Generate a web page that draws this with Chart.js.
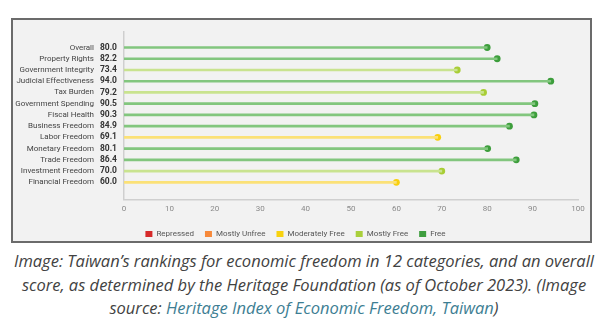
<!DOCTYPE html>
<html>
<head>
<meta charset="utf-8">
<script src="https://cdn.jsdelivr.net/npm/chart.js@4.4.0/dist/chart.umd.min.js"></script>
<style>
  body { margin: 0; background: #fff; width: 608px; height: 331px; overflow: hidden; position: relative; }
  #box { position: absolute; left: 11px; top: 18px; width: 581px; height: 225px; box-sizing: border-box;
         border: 2px solid #6b6b6b; background: #f2f2f2; }
  #box canvas { display: block; }
  #caption { position: absolute; left: 0; top: 249px; width: 608px; text-align: center;
             font-family: "Open Sans", sans-serif; font-style: italic; font-size: 16.5px; line-height: 23.5px; color: #424242; }
  #caption a { color: #3d7e93; text-decoration: none; }
</style>
</head>
<body>
<div id="box"><canvas id="freedomChart" width="577" height="221"></canvas></div>
<div id="caption">Image: Taiwan’s rankings for economic freedom in 12 categories, and an overall<br>score, as determined by the Heritage Foundation (as of October 2023). (Image<br>source: <a href="#">Heritage Index of Economic Freedom, Taiwan</a>)</div>
<script>
const categories = ["Overall", "Property Rights", "Government Integrity", "Judicial Effectiveness", "Tax Burden",
  "Government Spending", "Fiscal Health", "Business Freedom", "Labor Freedom", "Monetary Freedom",
  "Trade Freedom", "Investment Freedom", "Financial Freedom"];
const scores = [80.0, 82.2, 73.4, 94.0, 79.2, 90.5, 90.3, 84.9, 69.1, 80.1, 86.4, 70.0, 60.0];
const xTicks = [0, 10, 20, 30, 40, 50, 60, 70, 80, 90, 100];
const legendNames = ["Repressed", "Mostly Unfree", "Moderately Free", "Mostly Free", "Free"];
const legendColors = ["#d62a2a", "#f7893a", "#f8d20f", "#a9cf3b", "#3f9e3f"];

// stem colour and dot colour by freedom band
function bandColors(v) {
  if (v >= 80) return ["#82c67e", "#3d9e3c"];
  if (v >= 70) return ["#c9e38f", "#a8cd35"];
  if (v >= 60) return ["#fbe177", "#f8cf0e"];
  if (v >= 50) return ["#f9b888", "#f7893a"];
  return ["#e98a8a", "#d62a2a"];
}

const tickFont = { family: "Roboto", size: 8 };

new Chart(document.getElementById("freedomChart"), {
  type: "bar",
  data: {
    datasets: [{
      type: "bar",
      data: scores.map((v, i) => ({ x: v, y: i })),
      backgroundColor: scores.map(v => bandColors(v)[0]),
      barThickness: 2,
      yAxisID: "y"
    }, {
      type: "scatter",
      data: scores.map((v, i) => ({ x: v, y: i })),
      pointRadius: 3.4,
      pointHoverRadius: 3.4,
      pointBorderWidth: 0,
      pointBackgroundColor: scores.map(v => bandColors(v)[1]),
      yAxisID: "y"
    }]
  },
  options: {
    indexAxis: "y",
    responsive: false,
    animation: false,
    layout: { padding: { top: 12, right: 12, left: 0, bottom: -7 } },
    plugins: {
      tooltip: { enabled: false },
      legend: {
        position: "bottom",
        onClick: null,
        labels: {
          boxWidth: 7,
          boxHeight: 6,
          padding: 11,
          color: "#555",
          font: { family: "Roboto", size: 8 },
          generateLabels: () => legendNames.map((n, i) => ({
            text: n, fillStyle: legendColors[i], strokeStyle: legendColors[i], lineWidth: 0, hidden: false, fontColor: "#555"
          }))
        }
      }
    },
    scales: {
      x: {
        type: "linear",
        min: 0,
        max: 100,
        afterBuildTicks: s => { s.ticks = xTicks.map(v => ({ value: v })); },
        grid: { display: false, drawTicks: false },
        border: { display: true, color: "#cfcfcf", width: 1.5 },
        ticks: { color: "#8a8a8a", font: tickFont, padding: 5 }
      },
      y: {
        type: "linear",
        reverse: true,
        min: -0.8,
        max: 12.95,
        weight: 0,
        afterFit: s => { s.width = 27; },
        grid: { display: false, drawTicks: false },
        border: { display: true, color: "#cfcfcf", width: 1.5 },
        ticks: {
          stepSize: 1,
          includeBounds: false,
          autoSkip: false,
          padding: 7,
          color: "#333",
          font: { family: "Roboto", size: 8.5, weight: "bold" },
          callback: v => Number.isInteger(v) && scores[v] !== undefined ? scores[v].toFixed(1) : ""
        }
      },
      yNames: {
        type: "linear",
        position: "left",
        reverse: true,
        min: -0.8,
        max: 12.95,
        weight: 1,
        afterFit: s => { s.width = 84; },
        grid: { display: false, drawTicks: false },
        border: { display: false },
        ticks: {
          stepSize: 1,
          includeBounds: false,
          autoSkip: false,
          padding: 3,
          color: "#444",
          font: tickFont,
          callback: v => Number.isInteger(v) && categories[v] !== undefined ? categories[v] : ""
        }
      }
    }
  }
});
</script>
</body>
</html>
